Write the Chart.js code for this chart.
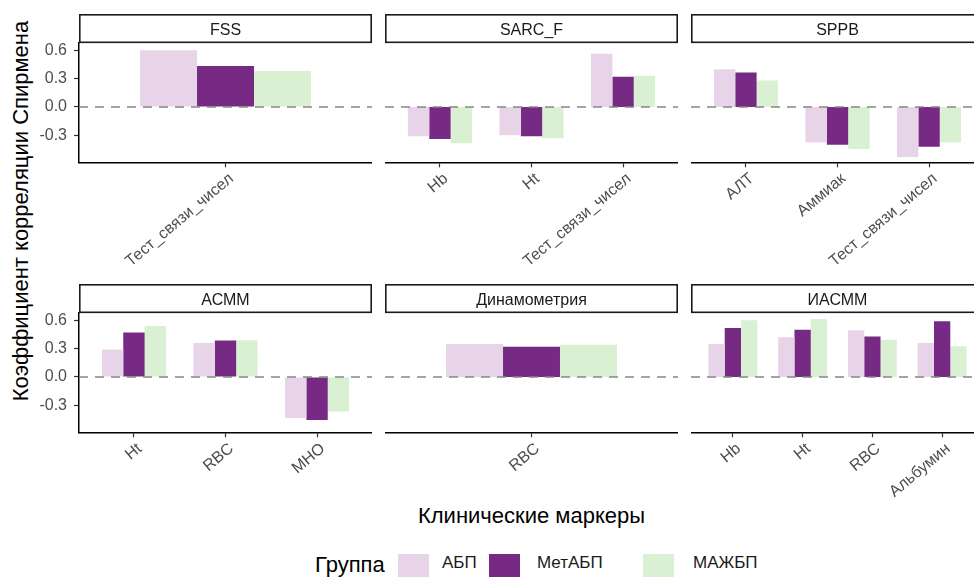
<!DOCTYPE html>
<html>
<head>
<meta charset="utf-8">
<title>Коэффициент корреляции Спирмена</title>
<script src="https://cdn.jsdelivr.net/npm/chart.js@4.4.1/dist/chart.umd.min.js"></script>
<style>
  html, body { margin: 0; padding: 0; background: #fff; }
  body {
    width: 974px; height: 577px; position: relative; overflow: hidden;
    font-family: "Liberation Sans", Arial, sans-serif; color: #000;
  }
  canvas { position: absolute; }
  .txt { position: absolute; white-space: nowrap; line-height: 1; }
  #yTitle { left: 21px; top: 211px; font-size: 22px; transform: translate(-50%, -50%) rotate(-90deg); }
  #xTitle { left: 531.5px; top: 504.7px; font-size: 22px; transform: translateX(-50%); }
  #legTitle { left: 315px; top: 554px; font-size: 22px; }
  .key { position: absolute; top: 553.7px; width: 31px; height: 31px; }
  .legLabel { position: absolute; top: 553.5px; font-size: 17px; line-height: 1; white-space: nowrap; color: #1a1a1a; }
</style>
</head>
<body>

<div class="txt" id="yTitle">Коэффициент корреляции Спирмена</div>
<div class="txt" id="xTitle">Клинические маркеры</div>
<div class="txt" id="legTitle">Группа</div>
<div id="legend"></div>

<script>
/* ==========================================
   DATA
========================================== */

const groups = ["АБП", "МетАБП", "МАЖБП"];
const groupColors = ["#e7d4e8", "#762a83", "#d9f0d3"];

const panelTitles = ["FSS", "SARC_F", "SPPB", "АСММ", "Динамометрия", "ИАСММ"];

/* FSS */
const fssMarkers = ["Тест_связи_чисел"];
const fssAbp = [0.60];
const fssMetAbp = [0.435];
const fssMazhbp = [0.38];

/* SARC_F */
const sarcMarkers = ["Hb", "Ht", "Тест_связи_чисел"];
const sarcAbp = [-0.31, -0.30, 0.565];
const sarcMetAbp = [-0.34, -0.31, 0.32];
const sarcMazhbp = [-0.385, -0.33, 0.33];

/* SPPB */
const sppbMarkers = ["АЛТ", "Аммиак", "Тест_связи_чисел"];
const sppbAbp = [0.40, -0.375, -0.53];
const sppbMetAbp = [0.365, -0.40, -0.42];
const sppbMazhbp = [0.28, -0.445, -0.375];

/* АСММ */
const asmmMarkers = ["Ht", "RBC", "МНО"];
const asmmAbp = [0.29, 0.36, -0.435];
const asmmMetAbp = [0.47, 0.385, -0.455];
const asmmMazhbp = [0.54, 0.39, -0.365];

/* Динамометрия */
const dynMarkers = ["RBC"];
const dynAbp = [0.35];
const dynMetAbp = [0.32];
const dynMazhbp = [0.34];

/* ИАСММ */
const iasmmMarkers = ["Hb", "Ht", "RBC", "Альбумин"];
const iasmmAbp = [0.35, 0.42, 0.495, 0.36];
const iasmmMetAbp = [0.52, 0.50, 0.43, 0.59];
const iasmmMazhbp = [0.60, 0.615, 0.395, 0.325];

/* shared y axis */
const yTicks = [-0.3, 0.0, 0.3, 0.6];
const yMin = -0.586;
const yMax = 0.685;

const panels = [
  { title: panelTitles[0], markers: fssMarkers, values: [fssAbp, fssMetAbp, fssMazhbp] },
  { title: panelTitles[1], markers: sarcMarkers, values: [sarcAbp, sarcMetAbp, sarcMazhbp] },
  { title: panelTitles[2], markers: sppbMarkers, values: [sppbAbp, sppbMetAbp, sppbMazhbp] },
  { title: panelTitles[3], markers: asmmMarkers, values: [asmmAbp, asmmMetAbp, asmmMazhbp] },
  { title: panelTitles[4], markers: dynMarkers, values: [dynAbp, dynMetAbp, dynMazhbp] },
  { title: panelTitles[5], markers: iasmmMarkers, values: [iasmmAbp, iasmmMetAbp, iasmmMazhbp] }
];

/* ==========================================
   LAYOUT (canvas boxes, px)
========================================== */

const STRIP = 28.3;
const PLOT_BOTTOM = 148.3;   // chart area bottom inside each canvas

const boxes = [
  { left: 30,  top: 14,  width: 342, height: 266, yAxis: true },
  { left: 385, top: 14,  width: 293, height: 266, yAxis: false },
  { left: 691, top: 14,  width: 293, height: 266, yAxis: false },
  { left: 30,  top: 284, width: 342, height: 220, yAxis: true },
  { left: 385, top: 284, width: 293, height: 220, yAxis: false },
  { left: 691, top: 284, width: 293, height: 220, yAxis: false }
];

const legendKeyX = [398, 489, 643];
const legendLabelX = [442, 537, 693];

/* ==========================================
   PLUGINS
========================================== */

/* facet strip above each panel */
const stripPlugin = {
  id: "strip",
  afterDraw(chart, args, opts) {
    const { ctx, chartArea: a } = chart;
    ctx.save();
    ctx.fillStyle = "#fff";
    ctx.fillRect(a.left, a.top - STRIP, a.right - a.left, STRIP);
    ctx.strokeStyle = "#1a1a1a";
    ctx.lineWidth = 1.6;
    ctx.strokeRect(a.left + 0.8, a.top - STRIP + 0.8, a.right - a.left - 1.6, STRIP - 0.8);
    ctx.fillStyle = "#1a1a1a";
    ctx.font = '16px "Liberation Sans", Arial, sans-serif';
    ctx.textAlign = "center";
    ctx.textBaseline = "alphabetic";
    ctx.fillText(opts.text, (a.left + a.right) / 2, a.top - STRIP + 20.5);
    ctx.restore();
  }
};

/* dashed line at zero */
const zeroLine = {
  id: "zeroLine",
  afterDatasetsDraw(chart) {
    const { ctx, chartArea: a, scales } = chart;
    const py = scales.y.getPixelForValue(0);
    ctx.save();
    ctx.setLineDash([9, 7]);
    ctx.strokeStyle = "#878787";
    ctx.lineWidth = 1.6;
    ctx.beginPath();
    ctx.moveTo(a.left, py);
    ctx.lineTo(a.right, py);
    ctx.stroke();
    ctx.restore();
  }
};

Chart.defaults.font.family = '"Liberation Sans", Arial, sans-serif';

/* ==========================================
   BUILD PANELS
========================================== */

panels.forEach((panel, p) => {

  const box = boxes[p];
  const canvas = document.createElement("canvas");
  canvas.width = box.width;
  canvas.height = box.height;
  canvas.style.left = box.left + "px";
  canvas.style.top = box.top + "px";
  canvas.style.width = box.width + "px";
  canvas.style.height = box.height + "px";
  document.body.appendChild(canvas);

  const n = panel.markers.length;

  new Chart(canvas, {
    type: "bar",

    data: {
      datasets: groups.map((g, k) => ({
        label: g,
        data: panel.markers.map((m, i) => ({ x: i + 1, y: panel.values[k][i] })),
        backgroundColor: groupColors[k],
        borderWidth: 0
      }))
    },

    options: {
      responsive: false,
      animation: false,
      devicePixelRatio: 1,
      // ggplot dodge width 0.7 of one category unit
      categoryPercentage: n > 1 ? 0.7 : 0.7 / 1.2,
      barPercentage: 1,
      layout: { padding: { top: STRIP, left: 0, right: 0, bottom: 0 } },

      plugins: {
        legend: { display: false },
        tooltip: { enabled: false },
        strip: { text: panel.title }
      },

      scales: {
        x: {
          type: "linear",
          offset: false,
          min: 0.4,
          max: n + 0.6,
          grid: {
            offset: false,
            drawOnChartArea: false,
            tickLength: 5,
            tickColor: "#333",
            tickWidth: 1.2
          },
          border: { color: "#000", width: 1.5 },
          afterBuildTicks: (ax) => {
            ax.ticks = panel.markers.map((m, i) => ({ value: i + 1 }));
          },
          afterFit: (ax) => {
            ax.height = box.height - PLOT_BOTTOM;
          },
          ticks: {
            autoSkip: false,
            minRotation: 40,
            maxRotation: 40,
            labelOffset: 6,
            color: "#4d4d4d",
            padding: 2,
            font: { size: 16 },
            callback: (v) => panel.markers[v - 1]
          }
        },

        y: {
          display: box.yAxis,
          min: yMin,
          max: yMax,
          grid: {
            drawOnChartArea: false,
            tickLength: 5,
            tickColor: "#333",
            tickWidth: 1.2
          },
          border: { color: "#000", width: 1.5 },
          afterBuildTicks: (ax) => {
            ax.ticks = yTicks.map((v) => ({ value: v }));
          },
          afterFit: (ax) => {
            ax.width = box.yAxis ? 49 : 0;
          },
          ticks: {
            color: "#4d4d4d",
            padding: 7,
            font: { size: 16 },
            callback: (v) => v.toFixed(1)
          }
        }
      }
    },

    plugins: [stripPlugin, zeroLine]
  });

});

/* ==========================================
   LEGEND
========================================== */

const legend = document.getElementById("legend");

groups.forEach((g, k) => {

  const key = document.createElement("div");
  key.className = "key";
  key.style.left = legendKeyX[k] + "px";
  key.style.background = groupColors[k];
  legend.appendChild(key);

  const label = document.createElement("div");
  label.className = "legLabel";
  label.style.left = legendLabelX[k] + "px";
  label.textContent = g;
  legend.appendChild(label);

});
</script>
</body>
</html>
